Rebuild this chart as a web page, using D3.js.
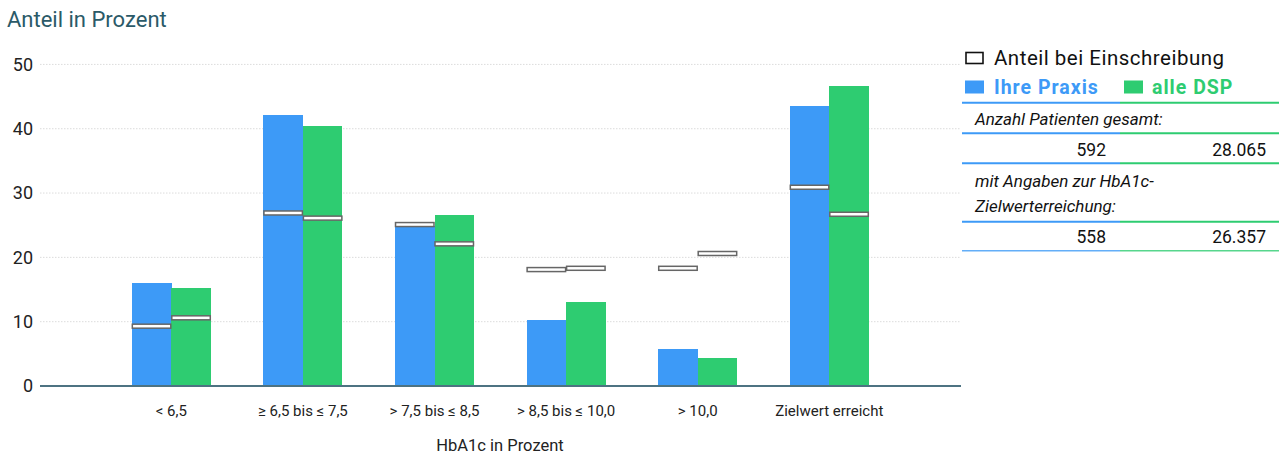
<!DOCTYPE html>
<html>
<head>
<meta charset="utf-8">
<script src="https://cdn.jsdelivr.net/npm/d3@7"></script>
<style>
  html, body { margin: 0; padding: 0; background: #fff; }
  svg { display: block; font-family: Roboto, "Noto Sans", sans-serif; }
</style>
</head>
<body>
<svg id="chart" width="1279" height="457"></svg>
<script>
// HbA1c distribution: practice vs. all DSP, with share at enrolment
const categories = ["< 6,5", "≥ 6,5 bis ≤ 7,5", "> 7,5 bis ≤ 8,5", "> 8,5 bis ≤ 10,0", "> 10,0", "Zielwert erreicht"];
const praxis = [16.0, 42.1, 24.9, 10.3, 5.8, 43.5];
const dsp = [15.2, 40.4, 26.6, 13.0, 4.4, 46.6];
const praxisEinschreibung = [9.3, 26.9, 25.1, 18.1, 18.3, 30.9];
const dspEinschreibung = [10.6, 26.1, 22.1, 18.3, 20.6, 26.7];
const yTicks = [0, 10, 20, 30, 40, 50];

const tableRows = [
  { label: ["Anzahl Patienten gesamt:"], praxis: "592", dsp: "28.065" },
  { label: ["mit Angaben zur HbA1c-", "Zielwerterreichung:"], praxis: "558", dsp: "26.357" }
];

const BLUE = "#3d9af7", GREEN = "#2ecc71", TEAL = "#2b5a68";

const svg = d3.select("#chart");

const y = d3.scaleLinear().domain([0, 50]).range([386, 64.4]);
const x = d3.scaleBand().domain(categories).range([105.5, 895.1]).padding(0);
const barW = x.bandwidth() * 0.3;

// title
svg.append("text").attr("x", 7).attr("y", 27)
  .attr("fill", TEAL).attr("font-size", 22).text("Anteil in Prozent");

// gridlines
svg.append("g").selectAll("line").data(yTicks.filter(d => d > 0)).join("line")
  .attr("x1", 40).attr("x2", 961)
  .attr("y1", d => y(d)).attr("y2", d => y(d))
  .attr("stroke", "#dcdcdc").attr("stroke-width", 1).attr("stroke-dasharray", "1.5,1.5");

// y tick labels
const yAxis = svg.append("g").attr("transform", "translate(40,0)")
  .call(d3.axisLeft(y).tickValues(yTicks).tickSize(0).tickPadding(7));
yAxis.select(".domain").remove();
yAxis.selectAll("text").attr("font-size", 18).attr("fill", "#222")
  .attr("font-family", "Roboto, sans-serif");

// bars
const groups = svg.append("g").attr("shape-rendering", "crispEdges")
  .selectAll("g").data(categories).join("g")
  .attr("transform", d => `translate(${x(d) + x.bandwidth() / 2},0)`);

groups.append("rect")
  .attr("x", -barW).attr("width", barW + 0.5)
  .attr("y", (d, i) => y(praxis[i])).attr("height", (d, i) => y(0) - y(praxis[i]))
  .attr("fill", BLUE);
groups.append("rect")
  .attr("x", 0).attr("width", barW)
  .attr("y", (d, i) => y(dsp[i])).attr("height", (d, i) => y(0) - y(dsp[i]))
  .attr("fill", GREEN);

// enrolment markers
const mH = 4;
const markers = svg.append("g").selectAll("g").data(categories).join("g")
  .attr("transform", d => `translate(${x(d) + x.bandwidth() / 2},0)`);
markers.append("rect")
  .attr("x", -barW + 0.5).attr("width", barW - 1)
  .attr("y", (d, i) => y(praxisEinschreibung[i]) - mH / 2).attr("height", mH)
  .attr("fill", "#fff").attr("stroke", "#666").attr("stroke-width", 1.5);
markers.append("rect")
  .attr("x", 0.5).attr("width", barW - 1)
  .attr("y", (d, i) => y(dspEinschreibung[i]) - mH / 2).attr("height", mH)
  .attr("fill", "#fff").attr("stroke", "#666").attr("stroke-width", 1.5);

// baseline
svg.append("line").attr("x1", 40).attr("x2", 961)
  .attr("y1", y(0)).attr("y2", y(0))
  .attr("stroke", "#4d7382").attr("stroke-width", 2);

// x tick labels
const xAxis = svg.append("g").attr("transform", `translate(0,${y(0)})`)
  .call(d3.axisBottom(x).tickSize(0).tickPadding(19));
xAxis.select(".domain").remove();
xAxis.selectAll("text").attr("font-size", 15).attr("fill", "#222")
  .attr("font-family", "Roboto, sans-serif");

svg.append("text").attr("x", 500).attr("y", 451).attr("text-anchor", "middle")
  .attr("font-size", 16.5).attr("fill", "#222").text("HbA1c in Prozent");

// legend
const lg = svg.append("g");
lg.append("rect").attr("x", 966).attr("y", 52.5).attr("width", 17).attr("height", 11)
  .attr("fill", "#fff").attr("stroke", "#111").attr("stroke-width", 1.6);
lg.append("text").attr("x", 994).attr("y", 65).attr("font-size", 20.5).attr("letter-spacing", 0.5)
  .attr("fill", "#111").text("Anteil bei Einschreibung");
lg.append("rect").attr("x", 965).attr("y", 80.5).attr("width", 19).attr("height", 13).attr("fill", BLUE);
lg.append("text").attr("x", 994).attr("y", 94).attr("font-size", 19.5).attr("font-weight", "bold")
  .attr("letter-spacing", 1).attr("fill", BLUE).text("Ihre Praxis");
lg.append("rect").attr("x", 1124).attr("y", 80.5).attr("width", 19).attr("height", 13).attr("fill", GREEN);
lg.append("text").attr("x", 1152).attr("y", 94).attr("font-size", 19.5).attr("font-weight", "bold")
  .attr("letter-spacing", 1).attr("fill", GREEN).text("alle DSP");

// summary table
const splitX = 1120, tLeft = 962, tRight = 1279;
function rule(yy, w, op) {
  lg.append("line").attr("x1", tLeft).attr("x2", splitX).attr("y1", yy).attr("y2", yy)
    .attr("stroke", BLUE).attr("stroke-width", w).attr("opacity", op);
  lg.append("line").attr("x1", splitX).attr("x2", tRight).attr("y1", yy).attr("y2", yy)
    .attr("stroke", GREEN).attr("stroke-width", w).attr("opacity", op);
}
const ruleYs = [102.7, 133.3, 163.3, 221.7, 250.7];
ruleYs.forEach((yy, i) => rule(yy, i === ruleYs.length - 1 ? 1.5 : 2, i === ruleYs.length - 1 ? 0.8 : 1));

const labelBase = [125, 187];
const valueBase = [156, 243];
tableRows.forEach((r, i) => {
  r.label.forEach((l, j) => {
    lg.append("text").attr("x", 975).attr("y", labelBase[i] + j * 25)
      .attr("font-size", 17).attr("font-style", "italic").attr("fill", "#111").text(l);
  });
  lg.append("text").attr("x", 1106).attr("y", valueBase[i]).attr("text-anchor", "end")
    .attr("font-size", 17.5).attr("fill", "#111").text(r.praxis);
  lg.append("text").attr("x", 1266).attr("y", valueBase[i]).attr("text-anchor", "end")
    .attr("font-size", 17.5).attr("fill", "#111").text(r.dsp);
});
</script>
</body>
</html>
